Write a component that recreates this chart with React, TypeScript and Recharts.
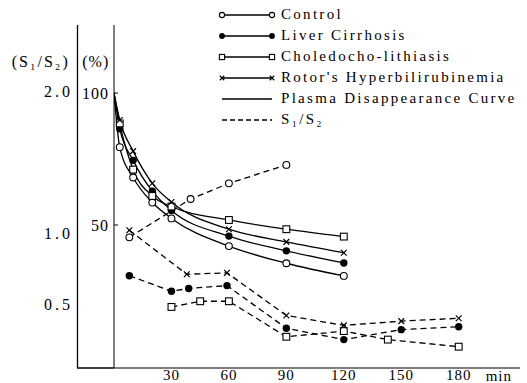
import { LineChart, Line, XAxis, YAxis, Legend, ReferenceLine, Label } from 'recharts';

// plasma disappearance curves (% of initial), read at these minutes
const curveTimes = [0, 3, 10, 20, 30, 60, 90, 120];
const controlPct = [100, 79.5, 68, 58.5, 52.5, 42, 35.5, 30.7];
const cirrhosisPct = [100, 86.5, 74.5, 62.8, 55.5, 45.8, 40.2, 35.6];
const choledochoPct = [100, 88.5, 71, 61, 57, 51.9, 48.4, 45.6];
const rotorPct = [100, 89.8, 78, 65.8, 58.7, 48.4, 43.6, 39.5];

// S1/S2 ratios
const controlRatioTimes = [8, 40, 60, 90];
const controlRatio = [0.97, 1.24, 1.35, 1.48];
const cirrhosisRatioTimes = [8, 30, 39, 59, 90, 120, 150, 180];
const cirrhosisRatio = [0.7, 0.59, 0.61, 0.63, 0.33, 0.25, 0.32, 0.34];
const choledochoRatioTimes = [30, 45, 60, 90, 120, 143, 180];
const choledochoRatio = [0.48, 0.52, 0.52, 0.27, 0.31, 0.25, 0.2];
const rotorRatioTimes = [8, 38, 59, 90, 120, 150, 180];
const rotorRatio = [1.02, 0.71, 0.72, 0.42, 0.35, 0.38, 0.4];

const minuteTicks = [30, 60, 90, 120, 150, 180];
const pctTicks = [50, 100];
const ratioTicks = [0.5, 1.0, 2.0];

const legendRows = [
    { label: 'Control', shape: 'open', dashed: false },
    { label: 'Liver Cirrhosis', shape: 'filled', dashed: false },
    { label: 'Choledocho-lithiasis', shape: 'square', dashed: false },
    { label: "Rotor's Hyperbilirubinemia", shape: 'cross', dashed: false },
    { label: 'Plasma Disappearance Curve', shape: 'none', dashed: false },
    { label: 'S\u2081/S\u2082', shape: 'none', dashed: true },
];

const FONT = '"Liberation Serif", "DejaVu Serif", serif';
const INK = '#000';
const DASH = '6 4';

const toPoints = (times: number[], values: number[]) =>
    times.map((t, i) => ({ t, v: values[i] }));

function Marker({ shape, cx, cy, size = 3.4 }: { shape: string; cx: number; cy: number; size?: number }) {
    if (shape === 'open') {
        return <circle cx={cx} cy={cy} r={size} fill="#fff" stroke={INK} strokeWidth={1.1} />;
    }
    if (shape === 'filled') {
        return <circle cx={cx} cy={cy} r={size + 0.3} fill={INK} />;
    }
    if (shape === 'square') {
        return (
            <rect x={cx - size} y={cy - size} width={size * 2} height={size * 2}
                fill="#fff" stroke={INK} strokeWidth={1.1} />
        );
    }
    if (shape === 'cross') {
        const s = size * 0.85;
        return (
            <g stroke={INK} strokeWidth={1.2}>
                <line x1={cx - s} y1={cy - s} x2={cx + s} y2={cy + s} />
                <line x1={cx - s} y1={cy + s} x2={cx + s} y2={cy - s} />
            </g>
        );
    }
    return null;
}

// skip the marker at t = 0 on the disappearance curves
const makeDot = (shape: string) => (props: any) => {
    const { cx, cy, payload, index } = props;
    if (payload.t === 0 || cx == null) return <g key={`${shape}-${index}`} />;
    return (
        <g key={`${shape}-${index}`}>
            <Marker shape={shape} cx={cx} cy={cy} />
        </g>
    );
};

function PctTick({ x, y, payload }: any) {
    return (
        <g>
            <line x1={x + 5} x2={x + 9} y1={y} y2={y} stroke={INK} />
            <text x={x} y={y} dy="0.35em" textAnchor="end" fontFamily={FONT}
                fontSize={16} letterSpacing={1} fill={INK}>
                {payload.value}
            </text>
        </g>
    );
}

function RatioTick({ x, y, payload }: any) {
    return (
        <text x={x} y={y} dy="0.35em" textAnchor="end" fontFamily={FONT}
            fontSize={16} letterSpacing={3} fill={INK}>
            {Number(payload.value).toFixed(1)}
        </text>
    );
}

function LegendBox() {
    return (
        <div style={{ fontFamily: FONT, fontSize: 15, letterSpacing: 2.3, color: INK }}>
            {legendRows.map(row => (
                <div key={row.label} style={{ display: 'flex', alignItems: 'center', height: 21 }}>
                    <svg width={63} height={12} style={{ flexShrink: 0 }}>
                        <line x1={4} x2={54} y1={6} y2={6} stroke={INK} strokeWidth={1.3}
                            strokeDasharray={row.dashed ? '5 3' : undefined} />
                        <Marker shape={row.shape} cx={4} cy={6} size={2.6} />
                        <Marker shape={row.shape} cx={54} cy={6} size={2.6} />
                    </svg>
                    <span style={{ whiteSpace: 'nowrap', lineHeight: 1 }}>{row.label}</span>
                </div>
            ))}
        </div>
    );
}

const solidSeries = [
    { id: 'control', values: controlPct, shape: 'open' },
    { id: 'cirrhosis', values: cirrhosisPct, shape: 'filled' },
    { id: 'choledocho', values: choledochoPct, shape: 'square' },
    { id: 'rotor', values: rotorPct, shape: 'cross' },
];

const ratioSeries = [
    { id: 'controlRatio', times: controlRatioTimes, values: controlRatio, shape: 'open' },
    { id: 'cirrhosisRatio', times: cirrhosisRatioTimes, values: cirrhosisRatio, shape: 'filled' },
    { id: 'choledochoRatio', times: choledochoRatioTimes, values: choledochoRatio, shape: 'square' },
    { id: 'rotorRatio', times: rotorRatioTimes, values: rotorRatio, shape: 'cross' },
];

const RATIO_DOMAIN = [0.05, 2.465];

export default function App() {
    return (
        <>
            <style>{'body { margin: 0; }'}</style>
            <LineChart width={527} height={383} margin={{ top: 25, right: 7, bottom: 0, left: 0 }}>
                <XAxis
                    dataKey="t"
                    type="number"
                    domain={[0, 212]}
                    ticks={minuteTicks}
                    allowDataOverflow
                    height={15}
                    tickSize={0}
                    tickMargin={1}
                    stroke={INK}
                    tick={{ fill: INK, fontFamily: FONT, fontSize: 15, letterSpacing: 1 }}
                >
                    <Label value="min" position="insideRight" offset={8} fill={INK}
                        fontFamily={FONT} fontSize={15} letterSpacing={1} dy={0} />
                </XAxis>
                <YAxis
                    yAxisId="pct"
                    type="number"
                    domain={[-4.2, 125.8]}
                    ticks={pctTicks}
                    allowDataOverflow
                    width={36.5}
                    tickSize={0}
                    tickMargin={5}
                    stroke={INK}
                    tick={<PctTick />}
                >
                    <Label value="(%)" position="insideTop" offset={31} fill={INK}
                        fontFamily={FONT} fontSize={16} letterSpacing={1} />
                </YAxis>
                <YAxis
                    yAxisId="ratio"
                    type="number"
                    domain={RATIO_DOMAIN}
                    ticks={ratioTicks}
                    allowDataOverflow
                    width={77.5}
                    tickSize={0}
                    tickMargin={4.5}
                    stroke="#000"
                    strokeWidth={1.3}
                    axisLine={{ stroke: '#000', strokeWidth: 1.3 }}
                    tick={<RatioTick />}
                >
                    <Label value={'(S\u2081/S\u2082)'} position="insideTop" offset={31} fill={INK}
                        fontFamily={FONT} fontSize={16} letterSpacing={2} dx={2} />
                </YAxis>
                <ReferenceLine
                    yAxisId="ratio"
                    segment={[{ x: -19.3, y: RATIO_DOMAIN[0] }, { x: 0, y: RATIO_DOMAIN[0] }]}
                    ifOverflow="visible"
                    stroke="#000"
                    strokeWidth={1.3}
                />
                {solidSeries.map(s => (
                    <Line
                        key={s.id}
                        yAxisId="pct"
                        data={toPoints(curveTimes, s.values)}
                        dataKey="v"
                        type="monotone"
                        stroke={INK}
                        strokeWidth={1.3}
                        dot={makeDot(s.shape)}
                        activeDot={false}
                        isAnimationActive={false}
                    />
                ))}
                {ratioSeries.map(s => (
                    <Line
                        key={s.id}
                        yAxisId="ratio"
                        data={toPoints(s.times, s.values)}
                        dataKey="v"
                        type="linear"
                        stroke={INK}
                        strokeWidth={1.3}
                        strokeDasharray={DASH}
                        dot={makeDot(s.shape)}
                        activeDot={false}
                        isAnimationActive={false}
                    />
                ))}
                <Legend
                    layout="horizontal"
                    verticalAlign="middle"
                    align="center"
                    content={<LegendBox />}
                    wrapperStyle={{ position: 'absolute', top: 4, left: 218, width: 309 }}
                />
            </LineChart>
        </>
    );
}
